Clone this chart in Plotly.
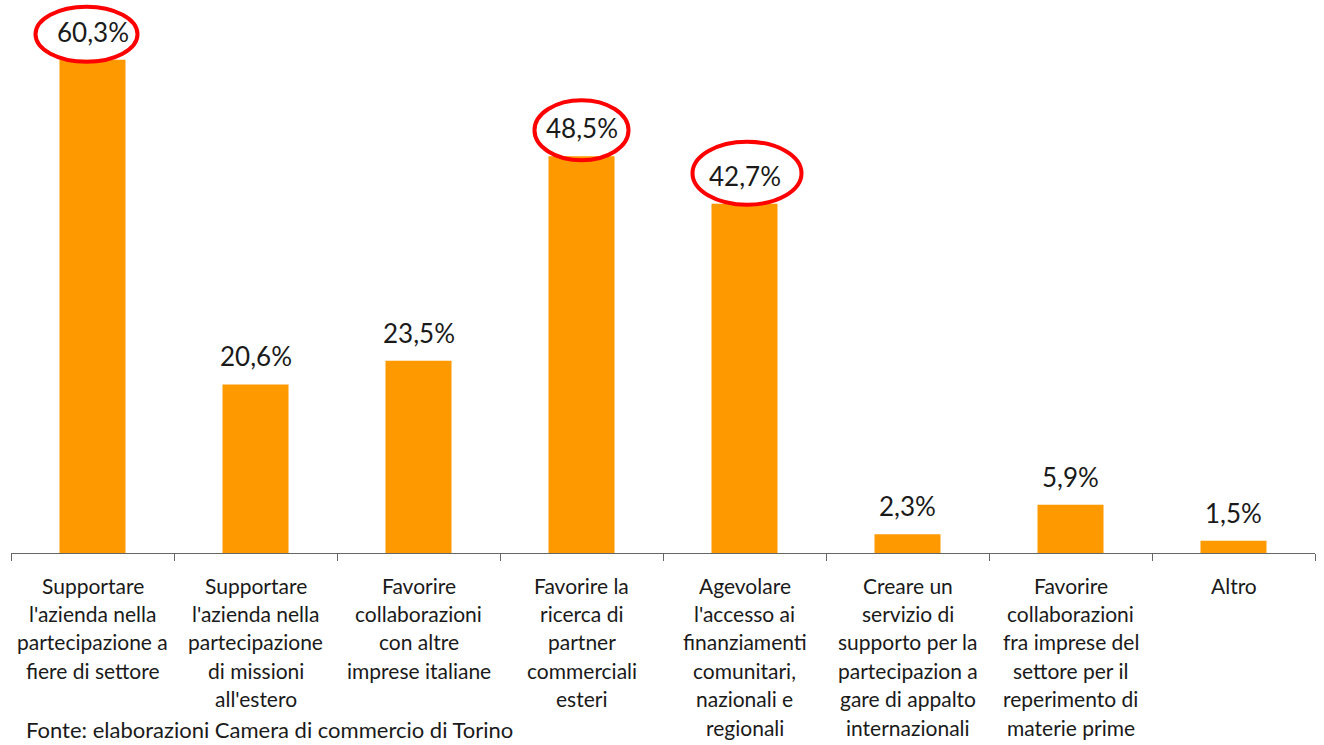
import plotly.graph_objects as go

# Survey answers: services requested by companies (multiple answers, %)
categories = [
    "Supportare\nl'azienda nella\npartecipazione a\nfiere di settore",
    "Supportare\nl'azienda nella\npartecipazione\ndi missioni\nall'estero",
    "Favorire\ncollaborazioni\ncon altre\nimprese italiane",
    "Favorire la\nricerca di\npartner\ncommerciali\nesteri",
    "Agevolare\nl'accesso ai\nfinanziamenti\ncomunitari,\nnazionali e\nregionali",
    "Creare un\nservizio di\nsupporto per la\npartecipazion a\ngare di appalto\ninternazionali",
    "Favorire\ncollaborazioni\nfra imprese del\nsettore per il\nreperimento di\nmaterie prime",
    "Altro",
]
values = [60.3, 20.6, 23.5, 48.5, 42.7, 2.3, 5.9, 1.5]
highlighted = [0, 3, 4]
source_note = "Fonte: elaborazioni Camera di commercio di Torino"

FONT = "Lato"
BAR_COLOR = "#FF9900"
TEXT_COLOR = "#1a1a1a"

x = list(range(len(values)))

fig = go.Figure()
fig.add_trace(go.Bar(
    x=x, y=values, width=0.405,
    marker=dict(color=BAR_COLOR, line=dict(width=0)),
    hoverinfo="skip",
))

annotations = []
# value labels above the bars
for i, v in enumerate(values):
    annotations.append(dict(
        x=i, y=v, xref="x", yref="y",
        text=f"{v:.1f}".replace(".", ",") + "%",
        showarrow=False, yanchor="middle", yshift=28,
        font=dict(family=FONT, size=26, color=TEXT_COLOR),
    ))

# multi-line category labels below the axis
LINE_STEP = 28.4
for i, cat in enumerate(categories):
    for k, line in enumerate(cat.split("\n")):
        annotations.append(dict(
            x=i, y=0, xref="x", yref="paper",
            text=line, showarrow=False, yanchor="middle",
            yshift=-32 - k * LINE_STEP,
            font=dict(family=FONT, size=21, color=TEXT_COLOR),
        ))

annotations.append(dict(
    x=0, y=0, xref="paper", yref="paper", xanchor="left", yanchor="middle",
    xshift=13, yshift=-176, text=source_note, showarrow=False,
    font=dict(family=FONT, size=22, color=TEXT_COLOR),
))

# red ellipses around selected value labels (pixel offsets from bar top)
ellipse_offsets = {0: (-57, 45, -2, 53), 3: (-47, 47, -4, 56), 4: (-52, 57, -1, 62)}
shapes = []
for i in highlighted:
    x0, x1, y0, y1 = ellipse_offsets[i]
    shapes.append(dict(
        type="circle", xref="x", yref="y",
        xsizemode="pixel", ysizemode="pixel",
        xanchor=i, yanchor=values[i],
        x0=x0, x1=x1, y0=y0, y1=y1,
        line=dict(color="#FF0000", width=4),
    ))

fig.update_layout(
    width=1324, height=745,
    margin=dict(l=11, r=9, t=0, b=192),
    paper_bgcolor="white", plot_bgcolor="white",
    showlegend=False,
    annotations=annotations,
    shapes=shapes,
    xaxis=dict(
        range=[-0.5, len(values) - 0.5],
        tickvals=[i - 0.5 for i in range(len(values) + 1)],
        showticklabels=False,
        ticks="outside", ticklen=7, tickwidth=1, tickcolor="#666666",
        showline=True, linecolor="#666666", linewidth=1,
        showgrid=False, zeroline=False, fixedrange=True,
    ),
    yaxis=dict(
        range=[0, 67.6], visible=False, showgrid=False, zeroline=False,
    ),
)

fig.write_html("out.html")
